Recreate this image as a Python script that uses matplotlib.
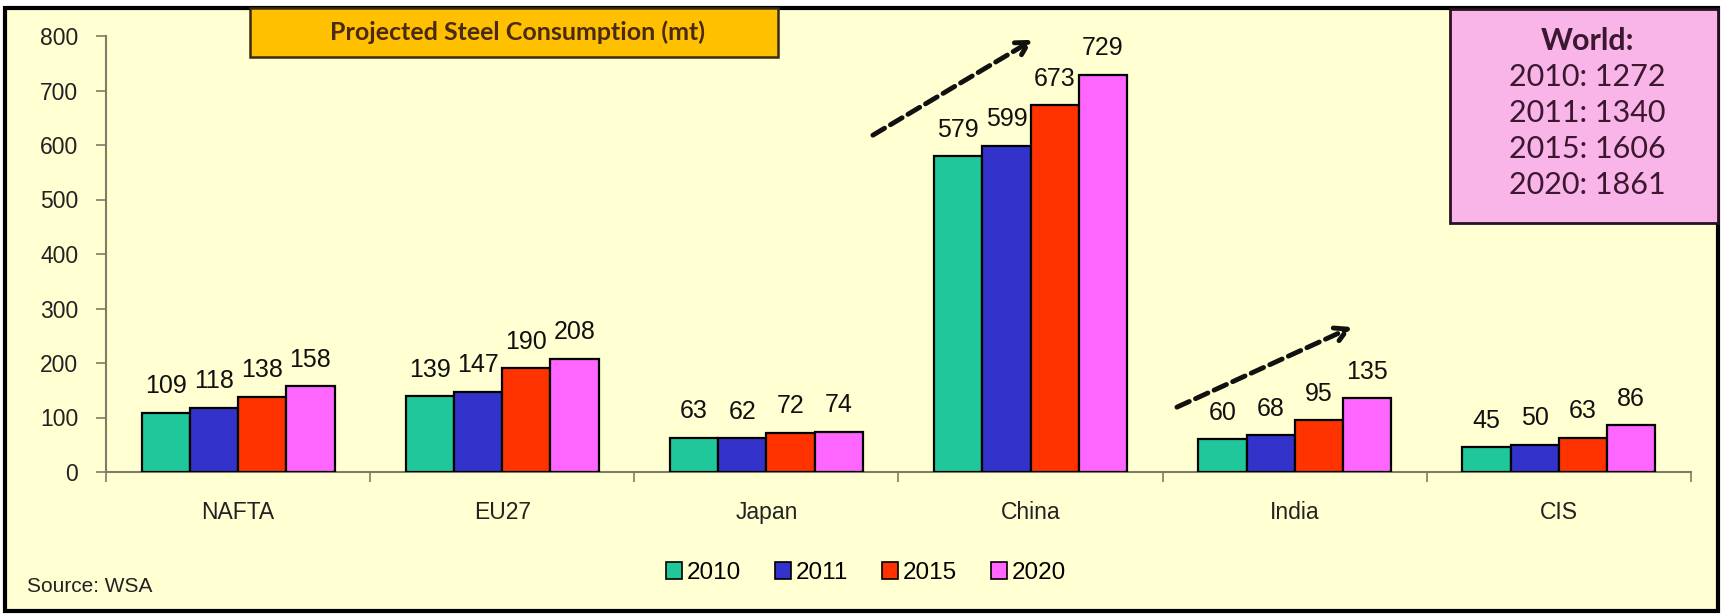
import matplotlib
matplotlib.use("Agg")
import matplotlib.pyplot as plt
from matplotlib.patches import Rectangle
import numpy as np

categories = ["NAFTA", "EU27", "Japan", "China", "India", "CIS"]
years = ["2010", "2011", "2015", "2020"]
v2010 = [109, 139, 63, 579, 60, 45]
v2011 = [118, 147, 62, 599, 68, 50]
v2015 = [138, 190, 72, 673, 95, 63]
v2020 = [158, 208, 74, 729, 135, 86]
series = [v2010, v2011, v2015, v2020]
colors = ["#1FC79A", "#3333CC", "#FF3300", "#FF66FF"]
yticks = [0, 100, 200, 300, 400, 500, 600, 700, 800]
world_lines = ["2010: 1272", "2011: 1340", "2015: 1606", "2020: 1861"]

W, H = 1721, 614
fig = plt.figure(figsize=(W / 100, H / 100), dpi=100)
fig.patch.set_facecolor("white")

def fx(px):
    return px / W

def fy(py):
    return 1 - py / H

# outer frame
frame = Rectangle((fx(5), fy(611)), fx(1718) - fx(5), fy(8) - fy(611),
                  transform=fig.transFigure, facecolor="#FFFFD2",
                  edgecolor="black", linewidth=3, zorder=-10)
fig.patches.append(frame)

ax = fig.add_axes([fx(106), fy(472), fx(1691) - fx(106), fy(36) - fy(472)])
ax.set_facecolor("none")
ax.set_zorder(1)

n = len(categories)
x = np.arange(n)
bw = 0.73 / 4
axis_col = "#7E7C66"
for i, (vals, c) in enumerate(zip(series, colors)):
    xs = x - 0.365 + bw * (i + 0.5)
    ax.bar(xs, vals, width=bw, color=c, edgecolor="black", linewidth=1.6,
           label=years[i], zorder=3)
    for xi, v in zip(xs, vals):
        ax.annotate(str(v), (xi, v), xytext=(0, 19), textcoords="offset points",
                    ha="center", va="center", fontsize=18,
                    family="Liberation Sans", color="#111111")

ax.set_xlim(-0.5, n - 0.5)
ax.set_ylim(0, 800)
ax.set_yticks(yticks)
ax.set_yticklabels([str(t) for t in yticks], family="Liberation Sans",
                   fontsize=16.5, color="#222222")
ax.set_xticks(x)
ax.set_xticklabels(categories, family="Liberation Sans", fontsize=16.5,
                   color="#222222")
ax.tick_params(axis="x", length=0, pad=21)
ax.set_xticks(np.arange(-0.5, n, 1.0), minor=True)
ax.tick_params(axis="x", which="minor", length=7, color=axis_col, width=1.2)
ax.tick_params(axis="y", length=7, color=axis_col, width=1.2, pad=13)
for s in ["top", "right"]:
    ax.spines[s].set_visible(False)
for s in ["left", "bottom"]:
    ax.spines[s].set_color(axis_col)
    ax.spines[s].set_linewidth(1.5)

# trend arrows
arrow_kw = dict(arrowstyle="->,head_length=0.9,head_width=0.5", color="#111111",
                lw=3.5, linestyle=(0, (2.8, 1.4)), shrinkA=0, shrinkB=0)
ax.annotate("", xy=(3.009, 793), xytext=(2.403, 618),
            arrowprops=arrow_kw, annotation_clip=False)
ax.annotate("", xy=(4.217, 266), xytext=(3.554, 119),
            arrowprops=arrow_kw, annotation_clip=False)

# title box
tb = Rectangle((fx(250), fy(57)), fx(778) - fx(250), fy(8) - fy(57),
               transform=fig.transFigure, facecolor="#FFC000",
               edgecolor="#3A2A12", linewidth=1.8, zorder=5)
fig.patches.append(tb)
fig.text((fx(250) + fx(778)) / 2 + 0.002, (fy(57) + fy(8)) / 2,
         "Projected Steel Consumption (mt)", ha="center", va="center",
         family="Lato", fontweight="bold", fontsize=18, color="#4A2A14", zorder=6)

# world box
wb = Rectangle((fx(1450), fy(223)), fx(1718) - fx(1450), fy(9) - fy(223),
               transform=fig.transFigure, facecolor="#F9B4E8",
               edgecolor="#2A1020", linewidth=2, zorder=5)
fig.patches.append(wb)
fig.text(fx(1587), fy(41), "World:", ha="center", va="center", family="Lato",
         fontweight="bold", fontsize=22, color="#3B1830", zorder=6)
for k, line in enumerate(world_lines):
    fig.text(fx(1587), fy(77 + 36 * k), line, ha="center", va="center",
             family="Lato", fontsize=22, color="#3B1830", zorder=6)

# legend
leg = fig.legend(loc="center", bbox_to_anchor=(fx(866), fy(573)), ncol=4,
                 frameon=False, handlelength=0.65, handleheight=0.65,
                 handletextpad=0.2, columnspacing=1.4,
                 prop={"family": "Liberation Sans", "size": 17.5})
for h in leg.legend_handles:
    h.set_linewidth(1.2)

fig.text(fx(27), fy(587), "Source: WSA", ha="left", va="center",
         family="Liberation Sans", fontsize=15, color="#222222")

fig.savefig("out.png", dpi=100, facecolor=fig.get_facecolor())
